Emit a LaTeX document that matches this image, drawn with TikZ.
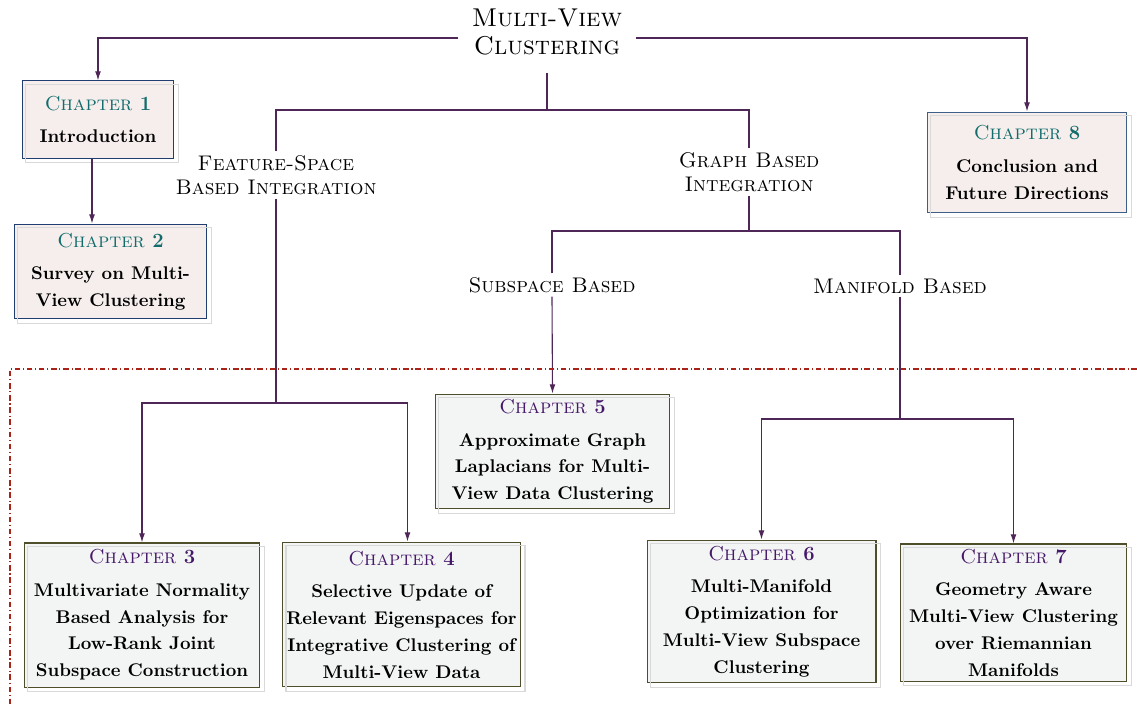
\documentclass[tikz,border=0pt]{standalone}
\usetikzlibrary{arrows.meta}

\definecolor{chapteal}{RGB}{18,108,108}
\definecolor{chappurple}{RGB}{70,24,106}
\definecolor{linkcol}{RGB}{78,38,88}
\definecolor{topedge}{RGB}{32,62,112}
\definecolor{topedgeb}{RGB}{62,96,136}
\definecolor{topfill}{RGB}{245,238,236}
\definecolor{lowedge}{RGB}{78,78,42}
\definecolor{lowfill}{RGB}{243,245,244}
\definecolor{zonecol}{RGB}{168,36,24}

\tikzset{
  topbox/.style={draw=topedge, line width=0.55pt, fill=topfill, align=center, inner sep=2pt,
    font=\fontsize{10}{14.6}\selectfont\bfseries},
  lowbox/.style={draw=lowedge, line width=0.55pt, fill=lowfill, align=center, inner sep=2pt,
    font=\fontsize{10}{14.6}\selectfont\bfseries},
  branch/.style={align=center, inner sep=2pt, font=\fontsize{11.5}{13}\selectfont\scshape},
  conn/.style={draw=linkcol, line width=0.6pt},
  arr/.style={conn, -{Latex[length=5pt,width=3.2pt]}},
  boxshadow/.style={draw=gray!30, line width=0.8pt},
  zone/.style={draw=zonecol, line width=0.6pt, dash pattern=on 3pt off 1.5pt on 0.6pt off 1.5pt}
}

\newcommand{\chaphead}[2]{{\fontsize{11}{13}\selectfont\color{#1}\textsc{\mdseries Chapter} \textbf{#2}}}

\begin{document}
\begin{tikzpicture}[x=0.5437pt,y=-0.5437pt]
\useasboundingbox (0,0) rectangle (1137,706);

% root and branch labels
\node[align=center, minimum width=96.7pt, minimum height=44.6pt, inner sep=2pt, font=\fontsize{14}{15.5}\selectfont\scshape] (title) at (547,32) {Multi-View\\Clustering};
\node[branch] (fs) at (276,175) {Feature-Space\\Based Integration};
\node[branch] (gb) at (749,172) {Graph Based\\Integration};
\node[branch] (sb) at (552,285) {Subspace Based};
\node[branch] (mb) at (900,286) {Manifold Based};

% chapters
\node[topbox, minimum width=82.6pt, minimum height=41.9pt] (c1) at (98,119.5)
  {\chaphead{chapteal}{1}\\[3pt] Introduction};
\node[topbox, minimum width=104.9pt, minimum height=51.6pt] (c2) at (110.5,271.5)
  {\chaphead{chapteal}{2}\\[3pt] Survey on Multi-\\View Clustering};
\node[topbox, draw=topedgeb, minimum width=108.7pt, minimum height=54.9pt] (c8) at (1027,162.5)
  {\chaphead{chapteal}{8}\\[3pt] Conclusion and\\Future Directions};
\node[lowbox, minimum width=128.3pt, minimum height=78.3pt] (c3) at (142,615)
  {\chaphead{chappurple}{3}\\[3pt] Multivariate Normality\\Based Analysis for\\Low-Rank Joint\\Subspace Construction};
\node[lowbox, minimum width=128.8pt, minimum height=78.8pt] (c4) at (401.5,614.5)
  {\chaphead{chappurple}{4}\\[3pt] Selective Update of\\Relevant Eigenspaces for\\Integrative Clustering of\\Multi-View Data};
\node[lowbox, minimum width=127.7pt, minimum height=62.5pt] (c5) at (552.5,451.5)
  {\chaphead{chappurple}{5}\\[3pt] Approximate Graph\\Laplacians for Multi-\\View Data Clustering};
\node[lowbox, minimum width=124.5pt, minimum height=77.7pt] (c6) at (761.5,611.5)
  {\chaphead{chappurple}{6}\\[3pt] Multi-Manifold\\Optimization for\\Multi-View Subspace\\Clustering};
\node[lowbox, minimum width=123.4pt, minimum height=74.5pt] (c7) at (1013.5,612.5)
  {\chaphead{chappurple}{7}\\[3pt] Geometry Aware\\Multi-View Clustering\\over Riemannian\\Manifolds};

\foreach \n in {c1,c2,c8,c3,c4,c5,c6,c7}
  \draw[boxshadow] ([shift={(4,4)}]\n.north west) rectangle ([shift={(4,4)}]\n.south east);

% junctions
\coordinate (j0) at (547,110);
\coordinate (j1) at (276,403);
\coordinate (j2) at (749,231);
\coordinate (j3) at (900,419);

% connectors
\draw[arr] ([shift={(0,6)}]title.west) -| (c1.north);
\draw[arr] ([shift={(0,6)}]title.east) -| (c8.north);
\draw[arr] ([shift={(-6,0)}]c1.south) -- ([shift={(-6,0)}]c1.south |- c2.north);
\draw[conn] (title.south) -- (j0);
\draw[conn] (fs.north) |- (j0) -| (gb.north);
\draw[conn] (fs.south) -- (j1);
\draw[arr] (j1) -| (c3.north);
\draw[arr] (j1) -| ([shift={(6,0)}]c4.north);
\draw[conn] (gb.south) -- (j2);
\draw[conn] (sb.north) |- (j2) -| (mb.north);
\draw[arr] (sb.south) -- (c5.north);
\draw[conn] (mb.south) -- (j3);
\draw[arr] (j3) -| (c6.north);
\draw[arr] (j3) -| (c7.north);

% region of later chapters
\draw[zone] (1137,369) -- (10,369) -- (10,706);
\end{tikzpicture}
\end{document}
